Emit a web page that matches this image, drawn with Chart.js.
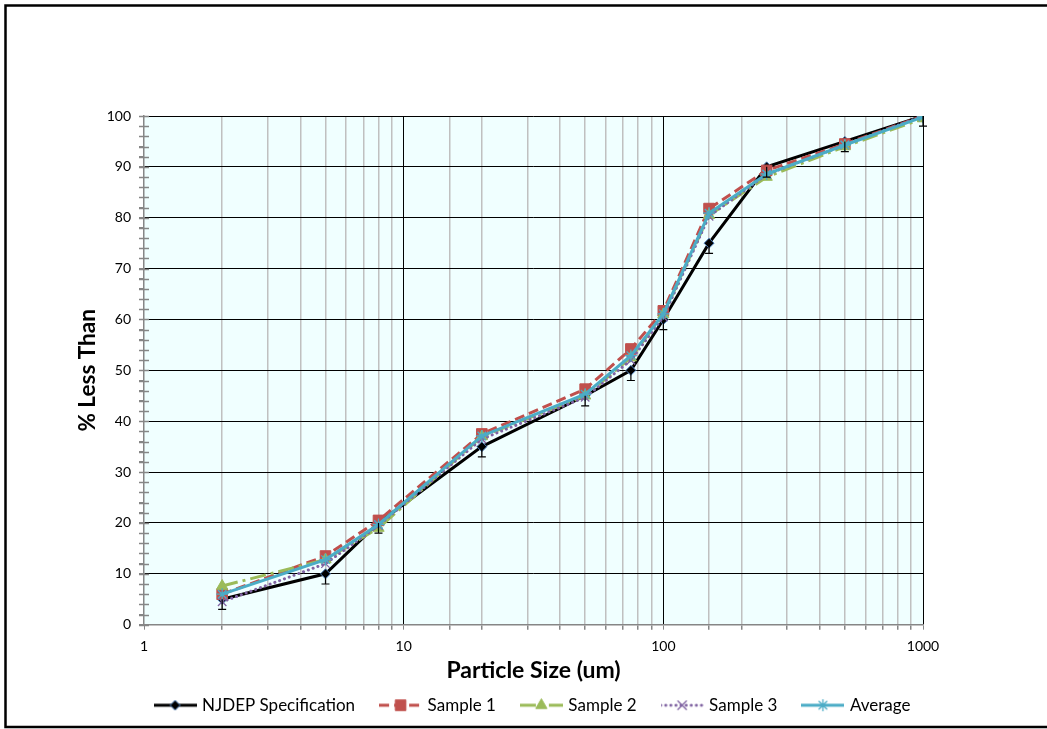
<!DOCTYPE html>
<html lang="en">
<head>
<meta charset="UTF-8">
<title>Particle Size Distribution</title>
<script src="https://cdn.jsdelivr.net/npm/chart.js"></script>
<style>
    body { margin: 0; background: #fff; }
    #wrap { width: 1047px; height: 729px; position: relative; }
</style>
</head>
<body>
<div id="wrap"><canvas id="psdChart"></canvas></div>
<script>
// particle sizes (um) and % less than
const sizes   = [2, 5, 8, 20, 50, 75, 100, 150, 250, 500, 1000];
const njdep   = [5, 10, 20, 35, 45, 50, 60, 75, 90, 95, 100];
const njdepErr = [2, 2, 2, 2, 2, 2, 2, 2, 2, 2, 2];   // minus error only
const sample1 = [6, 13.5, 20.5, 37.5, 46.3, 54.2, 61.7, 81.8, 89.3, 94.5, 100];
const sample2 = [7.6, 12.8, 19, 37, 45, 52.5, 61, 80.5, 88, 94, 99.5];
const sample3 = [4.5, 12, 19.5, 36.5, 44.7, 52, 60.5, 80.3, 88.5, 94.3, 100];
const average = [6.0, 12.8, 19.7, 37.1, 45.3, 52.9, 61.1, 80.9, 88.6, 94.3, 99.8];

const xTickLabels = [1, 10, 100, 1000];
const yTickLabels = [0, 10, 20, 30, 40, 50, 60, 70, 80, 90, 100];

const FONT = 'Lato, "Open Sans", sans-serif';

function pts(values) {
    return sizes.map((x, i) => ({ x: x, y: values[i] }));
}

const datasets = [
    {
        label: 'NJDEP Specification', data: pts(njdep), order: 5,
        borderColor: '#000000', borderWidth: 3,
        pointStyle: 'rectRot', pointRadius: 5,
        pointBackgroundColor: '#000000', pointBorderColor: '#4F81BD', pointBorderWidth: 1
    },
    {
        label: 'Sample 1', data: pts(sample1), order: 4,
        borderColor: '#C0504D', borderWidth: 3, borderDash: [10, 5],
        pointStyle: 'rect', pointRadius: 7.5,
        pointBackgroundColor: '#C0504D', pointBorderColor: '#C0504D', pointBorderWidth: 1
    },
    {
        label: 'Sample 2', data: pts(sample2), order: 3,
        borderColor: '#9BBB59', borderWidth: 3, borderDash: [16, 5, 3, 5],
        pointStyle: 'triangle', pointRadius: 6.5,
        pointBackgroundColor: '#9BBB59', pointBorderColor: '#9BBB59', pointBorderWidth: 1
    },
    {
        label: 'Sample 3', data: pts(sample3), order: 2,
        borderColor: '#8064A2', borderWidth: 3, borderDash: [0.1, 5], borderCapStyle: 'round',
        pointStyle: 'crossRot', pointRadius: 6,
        pointBackgroundColor: '#8064A2', pointBorderColor: '#8064A2', pointBorderWidth: 1.3
    },
    {
        label: 'Average', data: pts(average), order: 1,
        borderColor: '#4BACC6', borderWidth: 3,
        pointStyle: 'star', pointRadius: 6,
        pointBackgroundColor: '#4BACC6', pointBorderColor: '#4BACC6', pointBorderWidth: 1.3
    }
];

// legend icon: line segment in the series style with its marker in the middle
function legendIcon(ds) {
    const c = document.createElement('canvas');
    c.width = 43; c.height = 16;
    const g = c.getContext('2d');
    g.strokeStyle = ds.borderColor;
    g.lineWidth = ds.borderWidth;
    g.lineCap = ds.borderCapStyle || 'butt';
    g.setLineDash(ds.borderDash || []);
    g.beginPath(); g.moveTo(0, 8); g.lineTo(43, 8); g.stroke();
    g.setLineDash([]);
    g.fillStyle = ds.pointBackgroundColor;
    g.strokeStyle = ds.pointBorderColor;
    g.lineWidth = ds.pointBorderWidth;
    Chart.helpers.drawPoint(g, {
        pointStyle: ds.pointStyle, radius: ds.pointRadius, rotation: 0, borderWidth: ds.pointBorderWidth
    }, 21.5, 8);
    return c;
}
const legendIcons = datasets.map(legendIcon);

const plotBackground = {
    id: 'plotBackground',
    beforeDraw(chart) {
        const a = chart.chartArea, ctx = chart.ctx;
        ctx.save();
        ctx.fillStyle = '#F0FFFF';
        ctx.fillRect(a.left, a.top, a.right - a.left, a.bottom - a.top);
        ctx.restore();
    }
};

// centre the legend row under the plot area instead of the whole canvas
const legendShift = {
    id: 'legendShift',
    afterLayout(chart) {
        const lg = chart.legend, a = chart.chartArea;
        const d = (a.left + a.right) / 2 - (lg.left + lg.right) / 2;
        lg.left += d;
        lg.right += d;
    }
};

// minor y ticks crossing the axis line
const yMinorTicks = {
    id: 'yMinorTicks',
    afterDraw(chart) {
        const y = chart.scales.y, x0 = chart.chartArea.left, ctx = chart.ctx;
        ctx.save();
        ctx.strokeStyle = '#868686';
        ctx.lineWidth = 1.5;
        for (let v = 0; v <= 100; v += 2) {
            const py = Math.round(y.getPixelForValue(v)) + 0.5;
            ctx.beginPath(); ctx.moveTo(x0 - 5, py); ctx.lineTo(x0 + 5, py); ctx.stroke();
        }
        ctx.restore();
    }
};

const errorBars = {
    id: 'errorBars',
    afterDatasetsDraw(chart) {
        const xs = chart.scales.x, ys = chart.scales.y, ctx = chart.ctx;
        ctx.save();
        ctx.strokeStyle = '#000';
        ctx.lineWidth = 1.2;
        sizes.forEach((s, i) => {
            const px = xs.getPixelForValue(s);
            const top = ys.getPixelForValue(njdep[i]);
            const bot = ys.getPixelForValue(njdep[i] - njdepErr[i]);
            ctx.beginPath();
            ctx.moveTo(px, top); ctx.lineTo(px, bot);
            ctx.moveTo(px - 4, bot); ctx.lineTo(px + 4, bot);
            ctx.stroke();
        });
        ctx.restore();
    }
};

const frame = {
    id: 'frame',
    afterDraw(chart) {
        const ctx = chart.ctx;
        ctx.save();
        ctx.strokeStyle = '#000';
        ctx.lineWidth = 2.5;
        ctx.beginPath();
        ctx.moveTo(1047, 5.5); ctx.lineTo(5.5, 5.5); ctx.lineTo(5.5, 727); ctx.lineTo(1047, 727);
        ctx.stroke();
        ctx.restore();
    }
};

function isDecade(v) {
    const l = Math.log10(v);
    return Math.abs(l - Math.round(l)) < 1e-9;
}

new Chart(document.getElementById('psdChart'), {
    type: 'line',
    data: { datasets: datasets },
    plugins: [plotBackground, legendShift, yMinorTicks, errorBars, frame],
    options: {
        responsive: true,
        maintainAspectRatio: false,
        animation: false,
        layout: { padding: { top: 116, right: 124, left: 0, bottom: 5.3 } },
        elements: { line: { tension: 0 } },
        plugins: {
            tooltip: { enabled: false },
            legend: {
                position: 'bottom',
                labels: {
                    usePointStyle: true,
                    pointStyleWidth: 37,
                    padding: 27,
                    color: '#000',
                    font: { family: FONT, size: 17 },
                    generateLabels: chart => chart.data.datasets.map((ds, i) => ({
                        text: ds.label, datasetIndex: i, pointStyle: legendIcons[i],
                        fillStyle: 'transparent', strokeStyle: 'transparent', lineWidth: 0, hidden: false
                    }))
                }
            }
        },
        scales: {
            x: {
                type: 'logarithmic',
                min: 1, max: 1000,
                afterFit: s => { s.height = 45; },
                ticks: {
                    autoSkip: false, maxRotation: 0, padding: 8,
                    color: '#000', font: { family: FONT, size: 14 },
                    callback: v => xTickLabels.includes(v) ? String(v) : ''
                },
                grid: {
                    color: c => {
                        const v = c.tick.value;
                        if (v === 1) return 'rgba(0,0,0,0)';
                        return isDecade(v) ? '#000000' : '#C0C0C0';
                    },
                    lineWidth: c => isDecade(c.tick.value) ? 1 : 1.5,
                    tickLength: 5,
                    tickColor: '#868686'
                },
                border: { color: '#868686', width: 1.5 },
                title: {
                    display: true, text: 'Particle Size (um)', color: '#000',
                    font: { family: FONT, size: 23, weight: 'bold' },
                    padding: { top: 0, bottom: -14.8 }
                }
            },
            y: {
                min: 0, max: 100,
                afterFit: s => { s.width = 144; },
                ticks: {
                    stepSize: 2, autoSkip: false, padding: 8,
                    color: '#000', font: { family: FONT, size: 14 },
                    callback: v => yTickLabels.includes(v) ? String(v) : ''
                },
                grid: {
                    color: c => (c.tick.value % 10 === 0 && c.tick.value !== 0) ? '#000000' : 'rgba(0,0,0,0)',
                    lineWidth: 1,
                    tickLength: 5,
                    tickColor: '#868686'
                },
                border: { color: '#868686', width: 1.5 },
                title: {
                    display: true, text: '% Less Than', color: '#000',
                    font: { family: FONT, size: 22.5, weight: 'bold' },
                    padding: { top: 74, bottom: 0 }
                }
            }
        }
    }
});
</script>
</body>
</html>
